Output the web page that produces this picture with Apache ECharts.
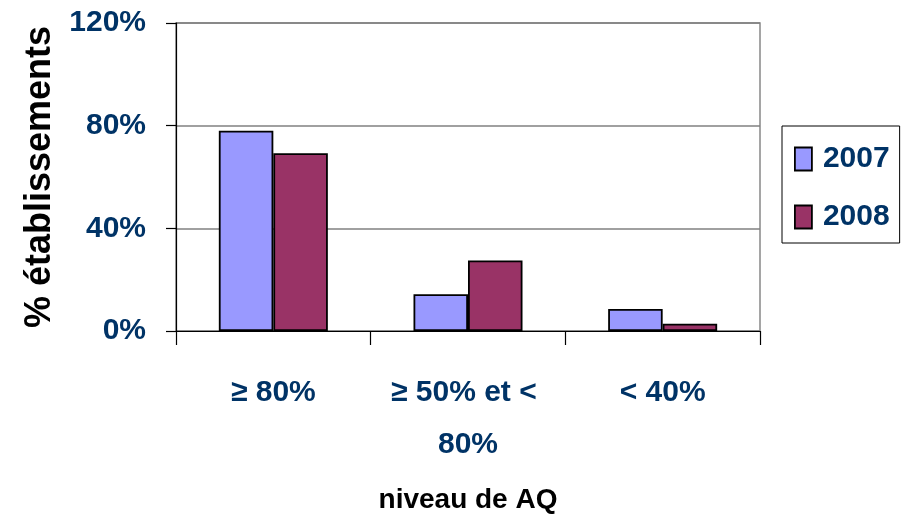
<!DOCTYPE html>
<html>
<head>
<meta charset="utf-8">
<script src="https://cdn.jsdelivr.net/npm/echarts@6/dist/echarts.min.js"></script>
<style>html,body{margin:0;padding:0;background:#fff}#c{width:901px;height:528px}</style>
</head>
<body>
<div id="c"></div>
<script>
var categories = ['≥ 80%', '≥ 50% et < 80%', '< 40%'];
var seriesNames = ['2007', '2008'];
var values2007 = [78, 14.3, 8.6];
var values2008 = [69.3, 27.5, 2.8];
var yTicks = [0, 40, 80, 120];
var yAxisTitle = '% établissements';
var xAxisTitle = 'niveau de AQ';

var FONT = '"Liberation Sans", Arial, sans-serif';
var BLUE = '#003366';
var chart = echarts.init(document.getElementById('c'), null, {renderer: 'canvas'});
chart.setOption({
  animation: false,
  backgroundColor: '#fff',
  grid: {left: 176, right: 141, top: 23, bottom: 197, show: true, borderColor: '#888', borderWidth: 1.5, backgroundColor: 'transparent'},
  legend: {
    orient: 'vertical', left: 782, top: 126,
    padding: [13, 10, 6, 12],
    itemGap: 18, itemWidth: 17, itemHeight: 23, icon: 'rect',
    borderColor: '#000', borderWidth: 1, backgroundColor: '#fff',
    data: seriesNames,
    textStyle: {fontFamily: FONT, fontWeight: 'bold', fontSize: 30, color: BLUE, lineHeight: 40, padding: [0, 0, 0, 6]},
    itemStyle: {borderColor: '#000', borderWidth: 1.8}
  },
  xAxis: {
    type: 'category', data: categories,
    name: xAxisTitle, nameLocation: 'middle', nameGap: 155,
    nameTextStyle: {fontFamily: FONT, fontWeight: 'bold', fontSize: 28, color: '#000'},
    axisLine: {lineStyle: {color: '#000', width: 1.2}},
    axisTick: {show: true, length: 14, lineStyle: {color: '#000', width: 1.2}},
    axisLabel: {interval: 0, hideOverlap: false, margin: 36, fontFamily: FONT, fontWeight: 'bold', fontSize: 30, color: BLUE, lineHeight: 52, width: 175, overflow: 'break'}
  },
  yAxis: {
    type: 'value', min: yTicks[0], max: yTicks[yTicks.length - 1], interval: 40,
    name: yAxisTitle, nameLocation: 'middle', nameGap: 112, nameRotate: 90,
    nameTextStyle: {fontFamily: FONT, fontWeight: 'bold', fontSize: 36, color: '#000'},
    axisLine: {show: true, lineStyle: {color: '#000', width: 1.2}},
    axisTick: {show: true, length: 10, lineStyle: {color: '#000', width: 1.2}},
    axisLabel: {formatter: '{value}%', margin: 30, fontFamily: FONT, fontWeight: 'bold', fontSize: 30, color: BLUE},
    splitLine: {lineStyle: {color: '#808080', width: 1.5}}
  },
  series: [
    {name: seriesNames[0], type: 'bar', data: values2007, barGap: '0%', barCategoryGap: '44%',
     itemStyle: {color: '#9999FF', borderColor: '#000', borderWidth: 1.8}},
    {name: seriesNames[1], type: 'bar', data: values2008, barGap: '0%', barCategoryGap: '44%',
     itemStyle: {color: '#993366', borderColor: '#000', borderWidth: 1.8}}
  ]
});
</script>
</body>
</html>
